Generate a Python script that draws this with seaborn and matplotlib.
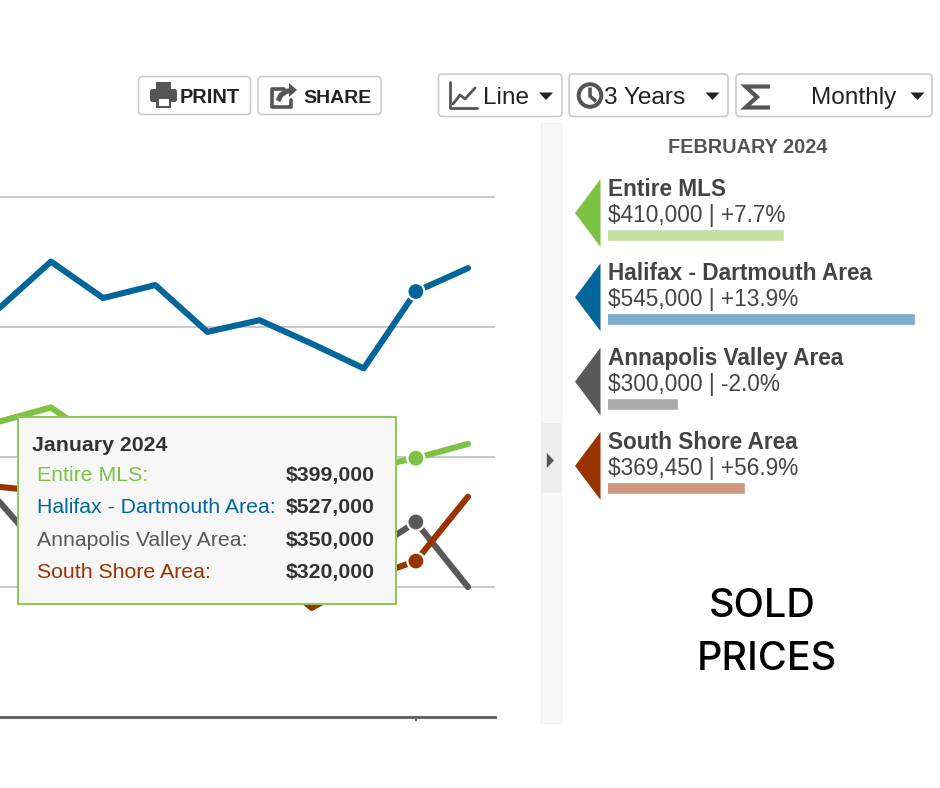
import numpy as np
import pandas as pd
import matplotlib
matplotlib.use("Agg")
import matplotlib.pyplot as plt
import seaborn as sns
from matplotlib.patches import Rectangle, FancyBboxPatch, Polygon, Circle
from matplotlib.lines import Line2D

# ---------------- data ----------------
months = ["May 2023", "Jun 2023", "Jul 2023", "Aug 2023", "Sep 2023",
          "Oct 2023", "Nov 2023", "Dec 2023", "Jan 2024", "Feb 2024"]
areas = ["Entire MLS", "Halifax - Dartmouth Area",
         "Annapolis Valley Area", "South Shore Area"]
entire_mls = [427000, 438000, 410000, 404000, 398000, 402000, 395000, 391000, 399000, 410000]
halifax = [514000, 550000, 522000, 532000, 496000, 505000, 487000, 468000, 527000, 545000]
annapolis = [366000, 320000, 335000, 328000, 325000, 338000, 318000, 324000, 350000, 300000]
south_shore = [377000, 373000, 345000, 330000, 320000, 318000, 284000, 306000, 320000, 369450]
pct_change = [7.7, 13.9, -2.0, 56.9]
tooltip_month = "January 2024"
panel_month = "FEBRUARY 2024"
grid_values = [300000, 400000, 500000, 600000]
toolbar_labels = ["PRINT", "SHARE", "Line", "3 Years", "Monthly"]
side_title = ["SOLD", "PRICES"]

line_colors = ["#7dc242", "#03669b", "#595959", "#993300"]
bar_colors = ["#c2e0a0", "#7aafcb", "#aaaaaa", "#cc967f"]

series = [entire_mls, halifax, annapolis, south_shore]
df = pd.DataFrame([
    {"area": a, "month": m, "idx": i, "price": s[i]}
    for a, s in zip(areas, series) for i, m in enumerate(months)
])
palette = dict(zip(areas, line_colors))

# ---------------- figure ----------------
sns.set_theme(style="white")
plt.rcParams["font.family"] = ["Liberation Sans", "DejaVu Sans"]

W, H = 940, 788
fig = plt.figure(figsize=(W / 100, H / 100), dpi=100)
fig.patch.set_facecolor("white")

def fx(px):
    return px / W

def fy(py):
    return 1 - py / H

# main chart axes
y_lo, y_hi = 200000, 650000
px_per_unit = 130.2 / 100000
bottom_px = 717.3
top_px = bottom_px - (y_hi - y_lo) * px_per_unit
ax = fig.add_axes([0, fy(bottom_px), 495 / W, (bottom_px - top_px) / H])

sns.lineplot(data=df, x="idx", y="price", hue="area", palette=palette,
             hue_order=areas, linewidth=4.4, legend=False, sort=False, ax=ax,
             solid_capstyle="round", solid_joinstyle="round")
jan = df[df["month"] == "Jan 2024"]
sns.scatterplot(data=jan, x="idx", y="price", hue="area", palette=palette,
                hue_order=areas, s=150, edgecolor="white", linewidth=1.6,
                legend=False, ax=ax, zorder=5)

step = 52.125
x0_px = 51 - step
ax.set_xlim((0 - x0_px) / step, (495 - x0_px) / step)
ax.set_ylim(y_lo, y_hi)
ax.set_yticks(grid_values)
ax.set_yticklabels([])
ax.yaxis.grid(True, color="#bbbbbb", linewidth=1.1)
ax.set_axisbelow(True)
ax.tick_params(axis="y", length=0)
ax.set_xticks([months.index("Jan 2024")])
ax.set_xticklabels([""])
ax.tick_params(axis="x", length=3, width=1.3, color="#666666", direction="out", bottom=True)
ax.set_xlabel("")
ax.set_ylabel("")
for sp in ["left", "top", "right"]:
    ax.spines[sp].set_visible(False)
ax.spines["bottom"].set_color("#666666")
ax.spines["bottom"].set_linewidth(2.2)
ax.patch.set_alpha(0)

# overlay axes in pixel coordinates
ov = fig.add_axes([0, 0, 1, 1])
ov.set_xlim(0, W)
ov.set_ylim(H, 0)
ov.axis("off")
ov.patch.set_alpha(0)

# tooltip
ov.add_patch(Rectangle((18, 417), 378, 187, facecolor="#f7f7f7",
                       edgecolor="#8cc85a", linewidth=1.5, zorder=10))
ov.text(32, 450.7, tooltip_month, fontsize=15.3, fontweight="bold",
        color="#333333", va="baseline", ha="left", zorder=11)
jan_idx = months.index("Jan 2024")
for i, (a, s, c) in enumerate(zip(areas, series, line_colors)):
    yb = 481 + 32.3 * i
    ov.text(37, yb, a + ":", fontsize=15.3, color=c, va="baseline", ha="left", zorder=11)
    ov.text(374.5, yb, f"${s[jan_idx]:,.0f}", fontsize=15.3, fontweight="bold",
            color="#333333", va="baseline", ha="right", zorder=11)

# divider strip
ov.add_patch(Rectangle((540.7, 123), 20, 600, facecolor="#f8f8f8",
                       edgecolor="#f0f0f0", linewidth=0.8))
ov.add_patch(Rectangle((540.7, 422.7), 20, 70.3, facecolor="#eeeeee",
                       edgecolor="none"))
ov.add_patch(Polygon([(546.8, 453), (546.8, 468), (554, 460.5)], closed=True,
                     facecolor="#555555", edgecolor="none"))

# right panel
ov.text(747.5, 152.5, panel_month, fontsize=14.3, fontweight="bold",
        color="#555555", ha="center", va="baseline")
feb_idx = months.index("Feb 2024")
feb_values = [s[feb_idx] for s in series]
gap = 84.3
for i, (a, c) in enumerate(zip(areas, line_colors)):
    dy = gap * i
    ov.add_patch(Polygon([(600.5, 179 + dy), (600.5, 247 + dy), (575, 213 + dy)],
                         closed=True, facecolor=c, edgecolor="none"))
    ov.text(607.5, 196 + dy, a, fontsize=16.3, fontweight="bold",
            color="#444444", ha="left", va="baseline")
    ov.text(607.5, 222 + dy, f"${feb_values[i]:,.0f} | {pct_change[i]:+.1f}%",
            fontsize=16.3, color="#444444", ha="left", va="baseline")

# legend bars
bar_top = 235 - gap / 2
bar_bot = 235 + gap * 3.5
bax = fig.add_axes([fx(607.5), fy(bar_bot), (930 - 607.5) / W, (bar_bot - bar_top) / H])
bdf = pd.DataFrame({"area": areas, "value": feb_values})
sns.barplot(data=bdf, x="value", y="area", hue="area", palette=bar_colors,
            orient="h", width=12 / gap, saturation=1, legend=False, ax=bax)
px_per_k = 0.9673
x_start = 227100
bax.set_xlim(x_start, x_start + 322.5 / px_per_k * 1000)
bax.set_ylim(3.5, -0.5)
bax.axis("off")
bax.patch.set_alpha(0)

# side title
ov.text(762, 617, side_title[0], fontsize=28.5, fontweight=500,
        family=["Inter", "DejaVu Sans"], color="#000000", ha="center", va="baseline")
ov.text(767, 670.5, side_title[1], fontsize=28.5, fontweight=500,
        family=["Inter", "DejaVu Sans"], color="#000000", ha="center", va="baseline")

# toolbar buttons
def button(x0, y0, x1, y1):
    ov.add_patch(FancyBboxPatch((x0, y0), x1 - x0, y1 - y0,
                                boxstyle="round,pad=0,rounding_size=4",
                                facecolor="white", edgecolor="#cccccc", linewidth=1.2))

button(138.5, 76.5, 250.5, 114.5)
button(258, 76.5, 381, 114.5)
button(438.5, 74, 562, 116.5)
button(569, 74, 728, 116.5)
button(736, 74, 932, 116.5)

ic = "#555555"
# printer icon
ov.add_patch(Rectangle((156, 82), 15, 8, facecolor=ic, edgecolor="none"))
ov.add_patch(FancyBboxPatch((150, 89), 27, 13, boxstyle="round,pad=0,rounding_size=2.5",
                            facecolor=ic, edgecolor="none"))
ov.add_patch(Rectangle((156, 97), 15, 11, facecolor=ic, edgecolor="none"))
ov.add_patch(Rectangle((158.5, 99), 10, 6.5, facecolor="white", edgecolor="none"))
# share icon
ov.add_line(Line2D([284, 272, 272, 291, 291], [89, 89, 107, 107, 100],
                   color=ic, linewidth=2.6, solid_joinstyle="round"))
ov.add_line(Line2D([278, 281, 286, 290], [101, 95, 91.5, 90.5],
                   color=ic, linewidth=3.6, solid_capstyle="butt"))
ov.add_patch(Polygon([(289, 83), (297, 90), (289, 97)], closed=True,
                     facecolor=ic, edgecolor="none"))
ov.text(180, 103.3, toolbar_labels[0], fontsize=14.4, fontweight="bold",
        color="#222222", ha="left", va="baseline")
ov.text(303, 103.3, toolbar_labels[1], fontsize=14.0, fontweight="bold",
        color="#222222", ha="left", va="baseline")

# line chart icon
ov.add_line(Line2D([449.5, 449.5, 477], [82, 108, 108], color=ic, linewidth=2.0))
ov.add_line(Line2D([453, 460, 465, 475], [104, 95, 99, 88], color=ic, linewidth=2.0,
                   solid_joinstyle="round"))
# clock icon
ov.add_patch(Circle((590, 95.5), 11.3, fill=False, edgecolor=ic, linewidth=2.9))
ov.add_line(Line2D([590, 590, 596], [87.5, 96, 101.5], color=ic, linewidth=2.6,
                   solid_joinstyle="miter", solid_capstyle="butt"))
# sigma icon
ov.add_line(Line2D([770, 745.5, 757, 745.5, 770], [86.5, 86.5, 97, 107.5, 107.5],
                   color=ic, linewidth=3.0, solid_joinstyle="miter", solid_capstyle="butt"))

ov.text(483, 104.3, toolbar_labels[2], fontsize=17.6, color="#222222",
        ha="left", va="baseline")
ov.text(604, 104.3, toolbar_labels[3], fontsize=17.6, color="#222222",
        ha="left", va="baseline")
ov.text(811, 104.3, toolbar_labels[4], fontsize=17.6, color="#222222",
        ha="left", va="baseline")
for cx in [546, 712.5, 917.5]:
    ov.add_patch(Polygon([(cx - 7, 92.5), (cx + 7, 92.5), (cx, 100)], closed=True,
                         facecolor="#222222", edgecolor="none"))

fig.savefig("out.png", dpi=100, facecolor="white")
